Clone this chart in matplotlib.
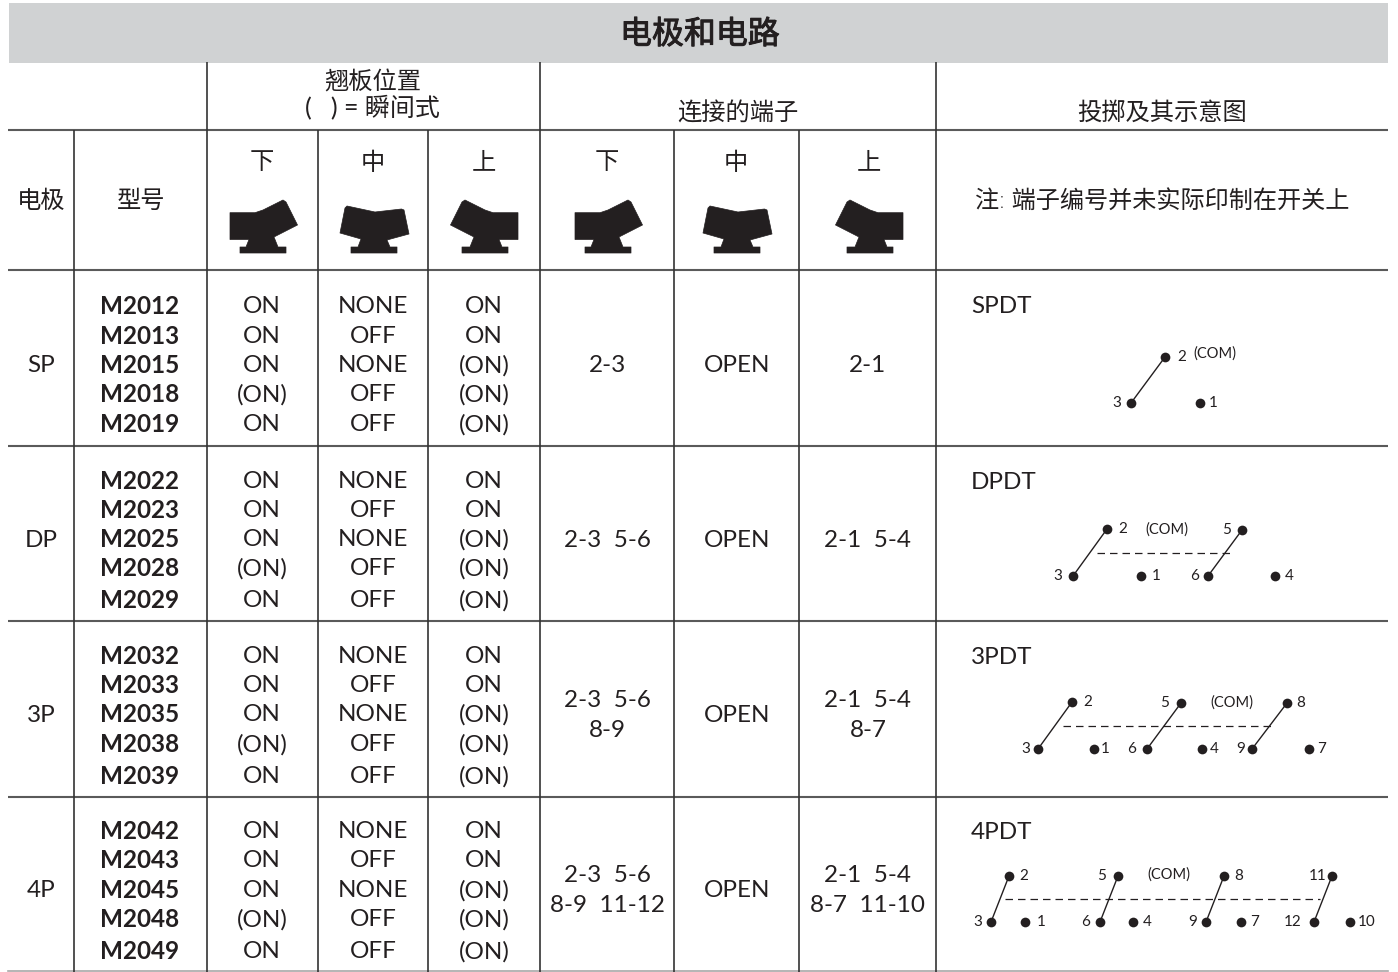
import matplotlib
matplotlib.use('Agg')
import matplotlib.pyplot as plt
import matplotlib.patheffects as pe
from matplotlib.patches import Polygon, Rectangle

plt.rcParams['font.family'] = ['Lato', 'Noto Sans CJK SC', 'DejaVu Sans']

INK = '#231f20'
RULE = '#5a5a5a'

title = '电极和电路'
poles = ['SP', 'DP', '3P', '4P']
models = [
    ['M2012', 'M2013', 'M2015', 'M2018', 'M2019'],
    ['M2022', 'M2023', 'M2025', 'M2028', 'M2029'],
    ['M2032', 'M2033', 'M2035', 'M2038', 'M2039'],
    ['M2042', 'M2043', 'M2045', 'M2048', 'M2049'],
]
rocker_down = ['ON', 'ON', 'ON', '(ON)', 'ON']
rocker_mid = ['NONE', 'OFF', 'NONE', 'OFF', 'OFF']
rocker_up = ['ON', 'ON', '(ON)', '(ON)', '(ON)']
term_down = [['2-3'], ['2-3  5-6'], ['2-3  5-6', '8-9'], ['2-3  5-6', '8-9  11-12']]
term_mid = 'OPEN'
term_up = [['2-1'], ['2-1  5-4'], ['2-1  5-4', '8-7'], ['2-1  5-4', '8-7  11-10']]
throws = ['SPDT', 'DPDT', '3PDT', '4PDT']
positions = ['下', '中', '上']

# ---------------------------------------------------------------- #
# layout, all in image pixels

row_ys = [
    [305, 335, 364, 393, 423],
    [480, 509, 538, 567, 599],
    [655, 684, 713, 743, 775],
    [830, 859, 889, 918, 950],
]
group_ys = [364, 539, 714, 889]
throw_ys = [305, 481, 656, 831]
icon_xs = [263, 374, 485, 608, 737, 870]

# gang: (x, y) of top contact, thrown contact, free contact + label x's
gangs = [
    [[(1165, 357, '2', 1182), (1131, 403, '3', 1117), (1200, 403, '1', 1213)]],
    [[(1107, 529, '2', 1123), (1073, 576, '3', 1058), (1141, 576, '1', 1156)],
     [(1242, 530, '5', 1227), (1208, 576, '6', 1195), (1275, 576, '4', 1289)]],
    [[(1072, 702, '2', 1088), (1038, 749, '3', 1026), (1094, 749, '1', 1105)],
     [(1181, 703, '5', 1165), (1147, 749, '6', 1132), (1202, 749, '4', 1214)],
     [(1287, 703, '8', 1301), (1252, 749, '9', 1241), (1309, 749, '7', 1322)]],
    [[(1009, 876, '2', 1024), (991, 922, '3', 978), (1025, 922, '1', 1041)],
     [(1118, 876, '5', 1102), (1100, 922, '6', 1086), (1133, 922, '4', 1147)],
     [(1224, 876, '8', 1239), (1206, 922, '9', 1193), (1241, 922, '7', 1255)],
     [(1332, 876, '11', 1318), (1314, 922, '12', 1293), (1350, 922, '10', 1367)]],
]
com_labels = [(1215, 353), (1167, 529), (1232, 702), (1169, 874)]
dashes = [None, (1097, 1230, 553), (1063, 1273, 726), (1005, 1320, 899)]

shape_down = [(-33, -40.3), (-8, -40.3), (0, -43), (20, -53), (23, -51), (34.5, -28),
              (11, -16), (15, -6), (23, -6), (23, 0), (-23, 0), (-23, -6), (-17, -6),
              (-14, -13.5), (-33, -13.5)]
shape_mid = [(-27, -47), (1, -41), (27.5, -44), (30, -43), (35, -19), (13, -13), (16, -6),
             (23, -6), (23, 0), (-23, 0), (-23, -6), (-16, -6), (-13, -14), (-34, -20),
             (-29, -45)]
shape_up = [(-x, y) for x, y in shape_down]
shapes = [shape_down, shape_mid, shape_up] * 2

# ---------------------------------------------------------------- #

fig = plt.figure(figsize=(13.98, 9.72), dpi=100)
ax = fig.add_axes([0, 0, 1, 1])
ax.set_xlim(0, 1398)
ax.set_ylim(972, 0)
ax.axis('off')


def label(x, y, s, size=17.5, **kw):
    # va='center' sits a bit high for these fonts
    return ax.text(x, y + 1.5, s, fontsize=size, color=INK, ha='center', va='center', **kw)


ax.add_patch(Rectangle((9, 3), 1379, 60, facecolor='#d0d2d3', edgecolor='none'))
# only regular and bold exist, thicken regular a little for the title
head = label(700, 33, title, size=23)
head.set_path_effects([pe.withStroke(linewidth=0.7, foreground=INK)])

# rules
for y in [130, 270, 446, 621, 797]:
    ax.plot([8, 1388], [y, y], color=RULE, lw=1.5, solid_capstyle='butt')
ax.plot([8, 1388], [971, 971], color='#a8a8a8', lw=1.2)
for x in [207, 540, 936]:
    ax.plot([x, x], [62, 972], color='#333333', lw=1.2, solid_capstyle='butt')
for x in [74, 318, 428, 674, 799]:
    ax.plot([x, x], [130, 972], color='#333333', lw=1.2, solid_capstyle='butt')

# header
label(373, 80, '翘板位置')
label(372, 105, '(   ) = 瞬间式', size=18)
label(738, 111, '连接的端子')
label(1162, 111, '投掷及其示意图')
label(41, 199, '电极')
label(141, 199, '型号')
label(1162, 199, '注: 端子编号并未实际印制在开关上', size=17.4, fontweight='light')

for x, s, pts in zip(icon_xs, positions * 2, shapes):
    label(x - 1, 161, s)
    ax.add_patch(Polygon([(x + px, 253 + py) for px, py in pts], closed=True,
                         facecolor=INK, edgecolor=INK, lw=0.5, joinstyle='round'))

# body
for i in range(4):
    label(41, group_ys[i], poles[i])
    for j in range(5):
        y = row_ys[i][j]
        label(140, y, models[i][j], fontweight='bold')
        label(262, y, rocker_down[j])
        label(373, y, rocker_mid[j])
        label(484, y, rocker_up[j])
    for x, lines in [(607, term_down[i]), (868, term_up[i])]:
        if len(lines) == 1:
            label(x, group_ys[i], lines[0])
        else:
            label(x, group_ys[i] - 15, lines[0])
            label(x, group_ys[i] + 15, lines[1])
    label(737, group_ys[i], term_mid)
    ax.text(971, throw_ys[i] + 1.5, throws[i], fontsize=17.5, color=INK, va='center')

    # switch diagram
    for top, thrown, free in gangs[i]:
        ax.plot([top[0], thrown[0]], [top[1], thrown[1]], color=INK, lw=1.0)
        for px, py, s, lx in (top, thrown, free):
            ax.plot(px, py, 'o', color=INK, ms=7, mew=0)
            label(lx, py - 2, s, size=11)
    cx, cy = com_labels[i]
    label(cx, cy - 1, '(COM)', size=10.5)
    if dashes[i] is not None:
        x0, x1, y = dashes[i]
        ax.plot([x0, x1], [y, y], color=INK, lw=0.9, dashes=(6, 4))

fig.savefig('out.png', dpi=100)
